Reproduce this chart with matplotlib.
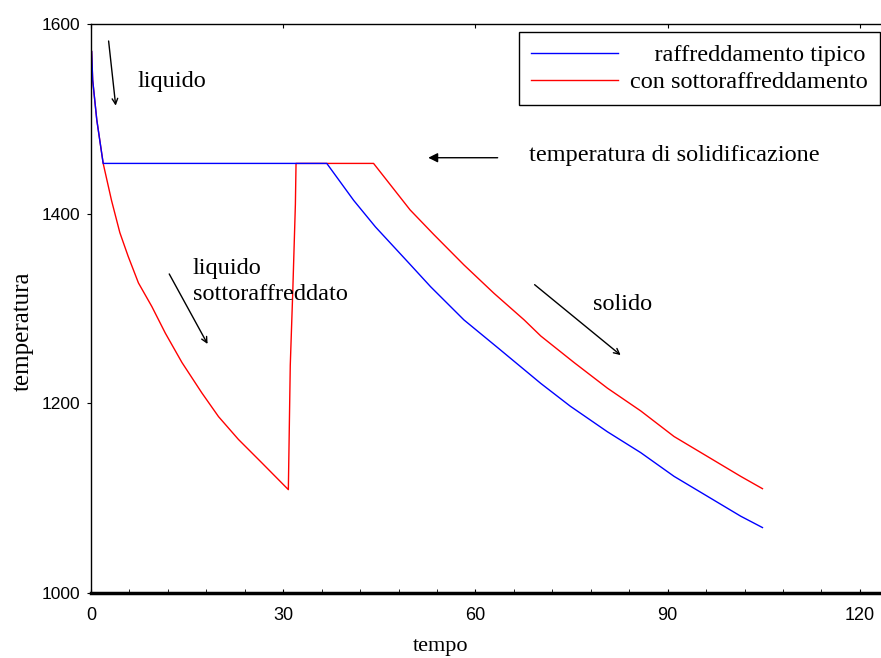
import matplotlib
matplotlib.use("Agg")
from matplotlib import pyplot as plt
from matplotlib.ticker import MultipleLocator

# raffreddamento tipico (blu)
t_tipico = [0.1, 0.26, 0.9, 1.9, 36.8, 41.0, 44.4, 49.6, 53.0, 58.2, 63.6,
            70.2, 74.8, 80.6, 85.8, 91.0, 96.2, 101.4, 104.8]
T_tipico = [1571, 1541, 1499, 1453, 1453, 1414, 1386, 1348, 1323, 1288, 1258,
            1221, 1197, 1170, 1148, 1123, 1102, 1081, 1069]

# con sottoraffreddamento (rosso)
t_sotto = [0.1, 0.26, 0.9, 1.9, 3.2, 4.5, 5.8, 7.4, 9.5, 11.6, 14.2, 17.3, 19.9,
           23.0, 26.7, 30.8, 31.1, 31.5, 31.9, 32.0, 44.1, 49.8, 53.5, 58.2,
           62.9, 67.6, 70.2, 75.4, 80.6, 85.8, 91.0, 96.2, 101.4, 104.8]
T_sotto = [1571, 1541, 1499, 1453, 1414, 1380, 1355, 1327, 1302, 1274, 1243,
           1211, 1186, 1162, 1137, 1109, 1240, 1320, 1410, 1453, 1453, 1404,
           1378, 1346, 1316, 1288, 1271, 1243, 1216, 1192, 1165, 1144, 1123, 1110]

serif = ['Liberation Serif', 'DejaVu Serif']
narrow = ['Liberation Sans Narrow', 'Liberation Sans', 'DejaVu Sans']

fig = plt.figure(figsize=(8.81, 6.58), dpi=100)
ax = fig.add_axes([0.1033, 0.0988, 0.8967, 0.8647])

l_rosso, = ax.plot(t_sotto, T_sotto, color='#ff0000', lw=1.0)
l_blu, = ax.plot(t_tipico, T_tipico, color='#0000ff', lw=1.0)

ax.set_xlim(0, 123.3)
ax.set_ylim(1000, 1600)
ax.set_xticks([0, 30, 60, 90, 120])
ax.set_yticks([1000, 1200, 1400, 1600])
ax.xaxis.set_minor_locator(MultipleLocator(6))
ax.tick_params(axis='x', which='major', direction='in', length=3, top=True,
               pad=10, labelsize=13)
ax.tick_params(axis='x', which='minor', direction='in', length=3, top=False)
ax.tick_params(axis='y', which='major', direction='out', length=3, pad=5,
               labelsize=12.5)
for lab in ax.get_xticklabels() + ax.get_yticklabels():
    lab.set_family(narrow)

ax.spines['right'].set_visible(False)
ax.spines['bottom'].set_linewidth(2.5)
ax.spines['left'].set_linewidth(1.0)
ax.spines['top'].set_linewidth(1.0)

ax.set_xlabel('tempo', family=serif, fontsize=16)
ax.xaxis.set_label_coords(0.443, -0.077)
ax.set_ylabel('temperatura', family=serif, fontsize=18)
ax.yaxis.set_label_coords(-0.073, 0.46)

fs = 17.5
ax.annotate('', xy=(3.9, 1511), xytext=(2.7, 1585),
            arrowprops=dict(arrowstyle='->', color='black', lw=1.0))
ax.text(7.3, 1539, 'liquido', family=serif, fontsize=fs, va='center')

ax.annotate('', xy=(18.4, 1260), xytext=(12.0, 1339),
            arrowprops=dict(arrowstyle='->', color='black', lw=1.0))
ax.text(15.9, 1353, 'liquido\nsottoraffreddato', family=serif, fontsize=fs,
        va='top', linespacing=1.3)

ax.annotate('', xy=(52.2, 1459), xytext=(63.9, 1459),
            arrowprops=dict(arrowstyle='-|>', color='black', lw=1.0,
                            mutation_scale=14))
ax.text(68.3, 1461, 'temperatura di solidificazione', family=serif,
        fontsize=fs, va='center')

ax.annotate('', xy=(83.0, 1249), xytext=(68.9, 1327),
            arrowprops=dict(arrowstyle='->', color='black', lw=1.0))
ax.text(78.4, 1304, 'solido', family=serif, fontsize=fs, va='center')

# spazi iniziali per allineare a destra la prima voce, come nell'originale
leg = ax.legend([l_blu, l_rosso],
                ['    raffreddamento tipico', 'con sottoraffreddamento'],
                loc='upper right', bbox_to_anchor=(0.999, 0.986),
                borderaxespad=0, fancybox=False, edgecolor='black',
                framealpha=1, handlelength=3.6, handletextpad=0.5,
                labelspacing=0.2, borderpad=0.5,
                prop={'family': serif, 'size': fs})
leg.get_frame().set_linewidth(1.0)

fig.savefig('out.png', dpi=100)
